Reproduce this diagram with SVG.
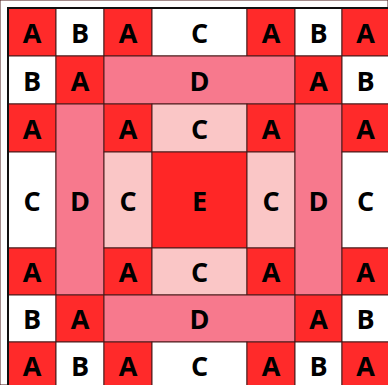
<svg xmlns="http://www.w3.org/2000/svg" width="388" height="385" viewBox="0 0 388 385">
<style>
rect{stroke:#4a1a1a;stroke-width:1}
.a{fill:#FF2A2A}.b{fill:#FFFFFF}.cw{fill:#FFFFFF}.cp{fill:#FAC6C6}.d{fill:#F7798D}.e{fill:#FF2626}
text{font-family:"Open Sans","Liberation Sans",sans-serif;font-weight:700;font-size:27px;fill:#000;text-anchor:middle;dominant-baseline:central}
</style>
<rect x="0" y="0" width="388" height="385" fill="#fff" stroke="none"/>
<g id="r0">
<g id="n00"><rect class="a" x="8" y="8" width="48" height="48"/><text x="32" y="32">A</text></g>
<g id="n01"><rect class="b" x="56" y="8" width="48" height="48"/><text x="80" y="32">B</text></g>
<g id="n02"><rect class="a" x="104" y="8" width="48" height="48"/><text x="128" y="32">A</text></g>
<g id="n03"><rect class="cw" x="152" y="8" width="95" height="48"/><text x="199.5" y="32">C</text></g>
<g id="n04"><rect class="a" x="247" y="8" width="48" height="48"/><text x="271" y="32">A</text></g>
<g id="n05"><rect class="b" x="295" y="8" width="47" height="48"/><text x="318.5" y="32">B</text></g>
<g id="n06"><rect class="a" x="342" y="8" width="48" height="48"/><text x="365.5" y="32">A</text></g>
</g>
<g id="r1">
<g id="n10"><rect class="b" x="8" y="56" width="48" height="48"/><text x="32" y="80">B</text></g>
<g id="n11"><rect class="a" x="56" y="56" width="48" height="48"/><text x="80" y="80">A</text></g>
<g id="n12"><rect class="d" x="104" y="56" width="191" height="48"/><text x="199.5" y="80">D</text></g>
<g id="n15"><rect class="a" x="295" y="56" width="47" height="48"/><text x="318.5" y="80">A</text></g>
<g id="n16"><rect class="b" x="342" y="56" width="48" height="48"/><text x="365.5" y="80">B</text></g>
</g>
<g id="mid">
<g id="n20"><rect class="a" x="8" y="104" width="48" height="48"/><text x="32" y="128">A</text></g>
<g id="n30"><rect class="cw" x="8" y="152" width="48" height="96"/><text x="32" y="200">C</text></g>
<g id="n40"><rect class="a" x="8" y="248" width="48" height="47"/><text x="32" y="271.5">A</text></g>
<g id="n21"><rect class="d" x="56" y="104" width="48" height="191"/><text x="80" y="200">D</text></g>
<g id="n22"><rect class="a" x="104" y="104" width="48" height="48"/><text x="128" y="128">A</text></g>
<g id="n32"><rect class="cp" x="104" y="152" width="48" height="96"/><text x="128" y="200">C</text></g>
<g id="n42"><rect class="a" x="104" y="248" width="48" height="47"/><text x="128" y="271.5">A</text></g>
<g id="n23"><rect class="cp" x="152" y="104" width="95" height="48"/><text x="199.5" y="128">C</text></g>
<g id="n33"><rect class="e" x="152" y="152" width="95" height="96"/><text x="199.5" y="200">E</text></g>
<g id="n43"><rect class="cp" x="152" y="248" width="95" height="47"/><text x="199.5" y="271.5">C</text></g>
<g id="n24"><rect class="a" x="247" y="104" width="48" height="48"/><text x="271" y="128">A</text></g>
<g id="n34"><rect class="cp" x="247" y="152" width="48" height="96"/><text x="271" y="200">C</text></g>
<g id="n44"><rect class="a" x="247" y="248" width="48" height="47"/><text x="271" y="271.5">A</text></g>
<g id="n25"><rect class="d" x="295" y="104" width="47" height="191"/><text x="318.5" y="200">D</text></g>
<g id="n26"><rect class="a" x="342" y="104" width="48" height="48"/><text x="365.5" y="128">A</text></g>
<g id="n36"><rect class="cw" x="342" y="152" width="48" height="96"/><text x="365.5" y="200">C</text></g>
<g id="n46"><rect class="a" x="342" y="248" width="48" height="47"/><text x="365.5" y="271.5">A</text></g>
</g>
<g id="r5">
<g id="n50"><rect class="b" x="8" y="295" width="48" height="47"/><text x="32" y="318.5">B</text></g>
<g id="n51"><rect class="a" x="56" y="295" width="48" height="47"/><text x="80" y="318.5">A</text></g>
<g id="n52"><rect class="d" x="104" y="295" width="191" height="47"/><text x="199.5" y="318.5">D</text></g>
<g id="n55"><rect class="a" x="295" y="295" width="47" height="47"/><text x="318.5" y="318.5">A</text></g>
<g id="n56"><rect class="b" x="342" y="295" width="48" height="47"/><text x="365.5" y="318.5">B</text></g>
</g>
<g id="r6">
<g id="n60"><rect class="a" x="8" y="342" width="48" height="48"/><text x="32" y="365">A</text></g>
<g id="n61"><rect class="b" x="56" y="342" width="48" height="48"/><text x="80" y="365">B</text></g>
<g id="n62"><rect class="a" x="104" y="342" width="48" height="48"/><text x="128" y="365">A</text></g>
<g id="n63"><rect class="cw" x="152" y="342" width="95" height="48"/><text x="199.5" y="365">C</text></g>
<g id="n64"><rect class="a" x="247" y="342" width="48" height="48"/><text x="271" y="365">A</text></g>
<g id="n65"><rect class="b" x="295" y="342" width="47" height="48"/><text x="318.5" y="365">B</text></g>
<g id="n66"><rect class="a" x="342" y="342" width="48" height="48"/><text x="365.5" y="365">A</text></g>
</g>
<g id="connectors"/>
<path d="M8,390 V8 H390" fill="none" stroke="#111" stroke-width="2"/>
</svg>
